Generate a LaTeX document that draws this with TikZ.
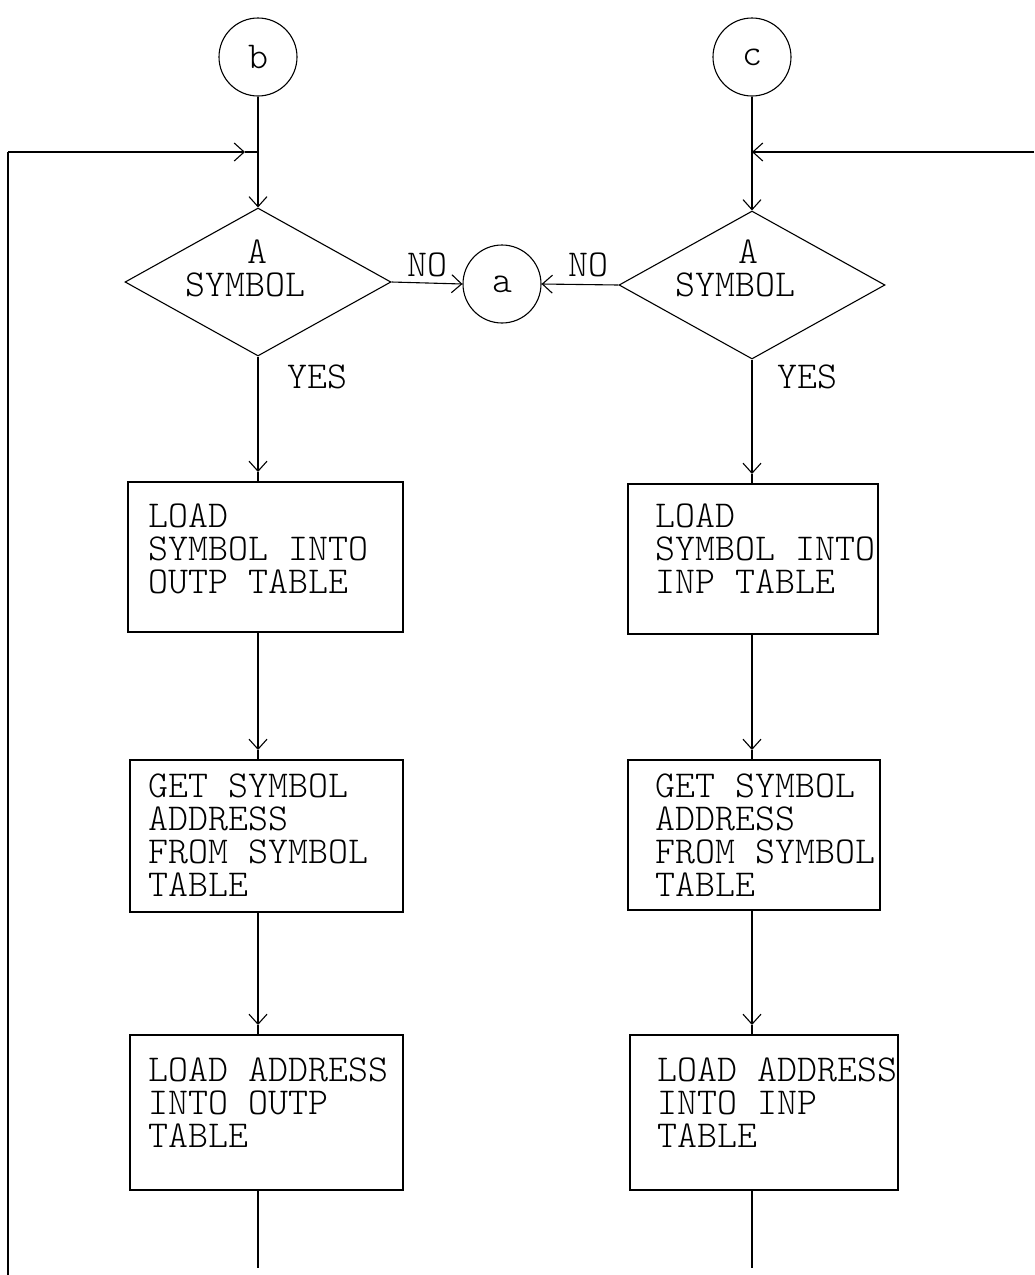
\documentclass[tikz,border=0pt]{standalone}
\usepackage{fontspec}
\newfontfamily\tw{lmmonolt10-regular.otf}
\usetikzlibrary{shapes.geometric,arrows.meta,calc}
\begin{document}
\begin{tikzpicture}[x=1pt,y=-1pt,
  line width=1.1pt,
  arr/.style={-{Straight Barb[length=10pt,width=18pt,line width=1.1pt]}},
  conn/.style={circle,draw,minimum size=78pt,inner sep=0pt,font=\tw\fontsize{38}{33}\selectfont},
  dec/.style={diamond,draw,minimum width=266pt,minimum height=148pt,inner sep=0pt},
  proc/.style={rectangle,draw,inner sep=0pt},
  lbl/.style={inner sep=0pt,font=\tw\fontsize{38}{33}\selectfont,align=left},
]
\useasboundingbox (0,0) rectangle (1034,1275);

% connectors
\node[conn] (b) at (258,57) {b};
\node[conn] (c) at (752,57) {c};
\node[conn] (a) at (502,284) {a};

% decisions
\node[dec] (d1) at (258,282) {};
\node[lbl,anchor=west] (d1t) at (185,268) {\hspace*{62pt}A\\SYMBOL};
\node[dec] (d2) at (752,285) {};
\node[lbl,anchor=west] (d2t) at (675,268) {\hspace*{63pt}A\\SYMBOL};

\node[lbl,anchor=west] (yes1) at (287,377) {YES};
\node[lbl,anchor=west] (yes2) at (777,377) {YES};
\node[lbl] (no1) at (427,265) {NO};
\node[lbl] (no2) at (588,265) {NO};

% left column boxes
\node[proc,minimum width=275pt,minimum height=150pt] (L1) at (265.5,557) {};
\node[lbl,anchor=west] (L1t) at (148,549) {LOAD\\SYMBOL INTO\\OUTP TABLE};
\node[proc,minimum width=273pt,minimum height=152pt] (L2) at (266.5,836) {};
\node[lbl,anchor=west] (L2t) at (148,835) {GET SYMBOL\\ADDRESS\\FROM SYMBOL\\TABLE};
\node[proc,minimum width=273pt,minimum height=155pt] (L3) at (266.5,1112.5) {};
\node[lbl,anchor=west] (L3t) at (148,1103) {LOAD ADDRESS\\INTO OUTP\\TABLE};

% right column boxes
\node[proc,minimum width=250pt,minimum height=150pt] (R1) at (753,559) {};
\node[lbl,anchor=west] (R1t) at (655,549) {LOAD\\SYMBOL INTO\\INP TABLE};
\node[proc,minimum width=252pt,minimum height=150pt] (R2) at (754,835) {};
\node[lbl,anchor=west] (R2t) at (655,835) {GET SYMBOL\\ADDRESS\\FROM SYMBOL\\TABLE};
\node[proc,minimum width=268pt,minimum height=155pt] (R3) at (764,1112.5) {};
\node[lbl,anchor=west] (R3t) at (657,1103) {LOAD ADDRESS\\INTO INP\\TABLE};

% coordinates
\coordinate (lb) at (8,1275);
\coordinate (lc) at (8,152);
\coordinate (la) at (245,152);
\coordinate (lj) at (258,152);
\coordinate (rc) at (1034,152);
\coordinate (rj) at (752,152);
\coordinate (L1in) at (258,472);
\coordinate (L2in) at (258,750);
\coordinate (L3in) at (258,1025);
\coordinate (R1in) at (752,474);
\coordinate (R2in) at (752,750);
\coordinate (R3in) at (752,1025);
\coordinate (Lend) at (258,1268);
\coordinate (Rend) at (752,1268);

% flow lines left
\draw (b.south) -- (lj);
\draw[arr] (lj) -- (d1.north);
\draw (lb) -- (lc);
\draw[arr] (lc) -- (la);
\draw (la) -- (lj);
\draw[arr] (d1.south) -- (L1in);
\draw (L1in) -- (L1in |- L1.north);
\draw[arr] (L1in |- L1.south) -- (L2in);
\draw (L2in) -- (L2in |- L2.north);
\draw[arr] (L2in |- L2.south) -- (L3in);
\draw (L3in) -- (L3in |- L3.north);
\draw (L3in |- L3.south) -- (Lend);

% flow lines right
\draw (c.south) -- (rj);
\draw[arr] (rc) -- (rj);
\draw[arr] (rj) -- (d2.north);
\draw[arr] (d2.south) -- (R1in);
\draw (R1in) -- (R1in |- R1.north);
\draw[arr] (R1in |- R1.south) -- (R2in);
\draw (R2in) -- (R2in |- R2.north);
\draw[arr] (R2in |- R2.south) -- (R3in);
\draw (R3in) -- (R3in |- R3.north);
\draw (R3in |- R3.south) -- (Rend);

% NO branches
\draw[arr] (d1.east) -- (a.west);
\draw[arr] (d2.west) -- (a.east);
\end{tikzpicture}
\end{document}
